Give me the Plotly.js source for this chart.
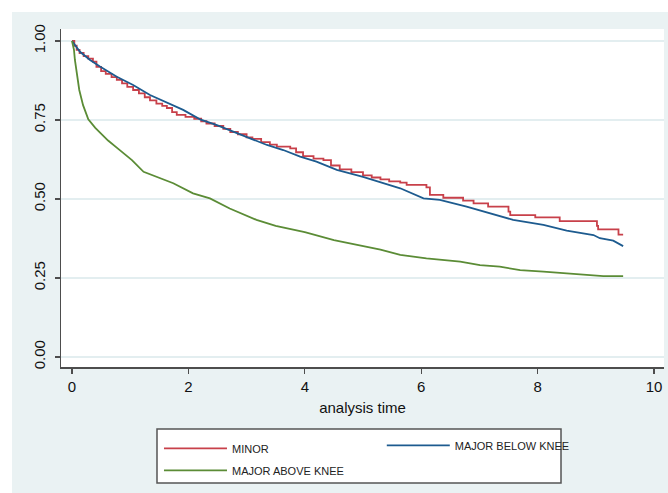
<!DOCTYPE html>
<html>
<head>
<meta charset="utf-8">
<script src="https://cdn.plot.ly/plotly-3.0.1.min.js"></script>
<style>
  html, body { margin: 0; padding: 0; background: #ffffff; }
  #chart { position: absolute; left: 12px; top: 12px; width: 656px; height: 481px; }
</style>
</head>
<body>
<div id="chart"></div>
<script>
// Series names
const seriesNames = ["MINOR", "MAJOR BELOW KNEE", "MAJOR ABOVE KNEE"];

// MINOR (step curve) - analysis time / survival
const minorTime = [0, 0.04, 0.08, 0.13, 0.2, 0.28, 0.36, 0.42, 0.5, 0.58, 0.68, 0.77, 0.86, 0.95, 1.05, 1.15, 1.25, 1.34, 1.45, 1.55, 1.63, 1.72, 1.80, 1.95, 2.10, 2.22, 2.31, 2.45, 2.60, 2.72, 2.85, 3.0, 3.1, 3.25, 3.40, 3.52, 3.75, 3.85, 3.97, 4.15, 4.32, 4.45, 4.60, 4.8, 5.0, 5.15, 5.3, 5.45, 5.64, 5.75, 6.09, 6.15, 6.38, 6.72, 6.90, 7.15, 7.50, 7.53, 7.96, 8.38, 9.02, 9.04, 9.39, 9.47];
const minorSurv = [1.0, 0.985, 0.972, 0.962, 0.952, 0.944, 0.935, 0.918, 0.905, 0.896, 0.886, 0.877, 0.866, 0.855, 0.845, 0.834, 0.822, 0.812, 0.802, 0.795, 0.788, 0.775, 0.766, 0.760, 0.754, 0.746, 0.739, 0.731, 0.722, 0.712, 0.705, 0.695, 0.690, 0.680, 0.672, 0.666, 0.660, 0.648, 0.636, 0.628, 0.623, 0.606, 0.594, 0.585, 0.575, 0.568, 0.562, 0.556, 0.552, 0.545, 0.537, 0.513, 0.504, 0.495, 0.486, 0.476, 0.460, 0.449, 0.442, 0.430, 0.415, 0.404, 0.387, 0.387];

// MAJOR BELOW KNEE
const belowTime = [0, 0.137, 0.31, 0.48, 0.77, 1.05, 1.34, 1.63, 1.91, 2.20, 2.49, 2.77, 3.06, 3.35, 3.63, 3.92, 4.20, 4.55, 5.0, 5.3, 5.64, 6.04, 6.32, 6.78, 7.30, 7.58, 8.10, 8.50, 8.96, 9.07, 9.30, 9.47];
const belowSurv = [1.0, 0.966, 0.940, 0.919, 0.887, 0.861, 0.829, 0.805, 0.782, 0.752, 0.734, 0.713, 0.692, 0.671, 0.655, 0.634, 0.618, 0.592, 0.570, 0.552, 0.534, 0.502, 0.497, 0.476, 0.449, 0.434, 0.418, 0.400, 0.386, 0.376, 0.368, 0.351];

// MAJOR ABOVE KNEE
const aboveTime = [0, 0.034, 0.05, 0.08, 0.125, 0.19, 0.28, 0.40, 0.54, 0.62, 0.80, 1.03, 1.23, 1.45, 1.74, 2.08, 2.37, 2.71, 3.17, 3.5, 4.0, 4.5, 5.0, 5.3, 5.64, 6.09, 6.67, 7.01, 7.35, 7.70, 8.10, 8.50, 8.90, 9.13, 9.47];
const aboveSurv = [1.0, 0.972, 0.940, 0.898, 0.845, 0.797, 0.752, 0.725, 0.698, 0.685, 0.658, 0.623, 0.586, 0.571, 0.550, 0.518, 0.502, 0.470, 0.434, 0.415, 0.395, 0.370, 0.352, 0.340, 0.323, 0.312, 0.302, 0.291, 0.286, 0.275, 0.270, 0.265, 0.259, 0.256, 0.256];

// Axis ticks
const xTicks = [0, 2, 4, 6, 8, 10];
const yTicks = [0, 0.25, 0.5, 0.75, 1.0];
const yTickLabels = ["0.00", "0.25", "0.50", "0.75", "1.00"];

const colors = ["#c8404a", "#1d5b8f", "#5b8c36"];
const font = "Liberation Sans, Arial, sans-serif";

const traces = [
  { x: minorTime, y: minorSurv, name: seriesNames[0], mode: "lines", legend: "legend", legendgroup: "a",
    line: { color: colors[0], width: 1.8, shape: "hv" } },
  { x: belowTime, y: belowSurv, name: seriesNames[1], mode: "lines", legend: "legend2",
    line: { color: colors[1], width: 1.8, shape: "linear" } },
  { x: aboveTime, y: aboveSurv, name: seriesNames[2], mode: "lines", legend: "legend", legendgroup: "b",
    line: { color: colors[2], width: 1.8, shape: "linear" } }
];

const legendCommon = {
  orientation: "v",
  xanchor: "left", yanchor: "top",
  itemwidth: 63,
  bgcolor: "rgba(0,0,0,0)", borderwidth: 0,
  font: { family: font, size: 11, color: "#222222" },
  tracegroupgap: 3
};

const layout = {
  width: 656, height: 481,
  paper_bgcolor: "#eaf2f3",
  plot_bgcolor: "#ffffff",
  margin: { l: 49, r: 4, t: 17, b: 126 },
  font: { family: font, size: 15, color: "#111111" },
  xaxis: {
    range: [-0.189, 10.172],
    tickvals: xTicks,
    ticks: "outside", ticklen: 5, tickwidth: 1.2, tickcolor: "#4d4d4d",
    ticklabelstandoff: 0,
    showline: true, linecolor: "#4d4d4d", linewidth: 1.5,
    showgrid: false, zeroline: false,
    tickfont: { family: font, size: 15, color: "#111111" },
    title: { text: "analysis time", font: { family: font, size: 15, color: "#111111" }, standoff: 9 }
  },
  yaxis: {
    range: [-0.0316, 1.038],
    tickvals: yTicks, ticktext: yTickLabels,
    tickangle: -90,
    ticks: "outside", ticklen: 5, tickwidth: 1.2, tickcolor: "#4d4d4d",
    ticklabelstandoff: 4,
    showline: true, linecolor: "#4d4d4d", linewidth: 1.5,
    showgrid: true, gridcolor: "#e3eef0", gridwidth: 1.5,
    zeroline: false,
    tickfont: { family: font, size: 15, color: "#111111" }
  },
  showlegend: true,
  legend: Object.assign({}, legendCommon, { x: 0.1625, y: -0.198 }),
  legend2: Object.assign({}, legendCommon, { x: 0.532, y: -0.189 }),
  shapes: [
    { type: "rect", xref: "paper", yref: "paper",
      x0: 0.1592, x1: 0.8292, y0: -0.3432, y1: -0.1834,
      fillcolor: "#ffffff", line: { color: "#555555", width: 1.5 }, layer: "above" }
  ]
};

Plotly.newPlot("chart", traces, layout, { displayModeBar: false, staticPlot: true });
</script>
</body>
</html>
